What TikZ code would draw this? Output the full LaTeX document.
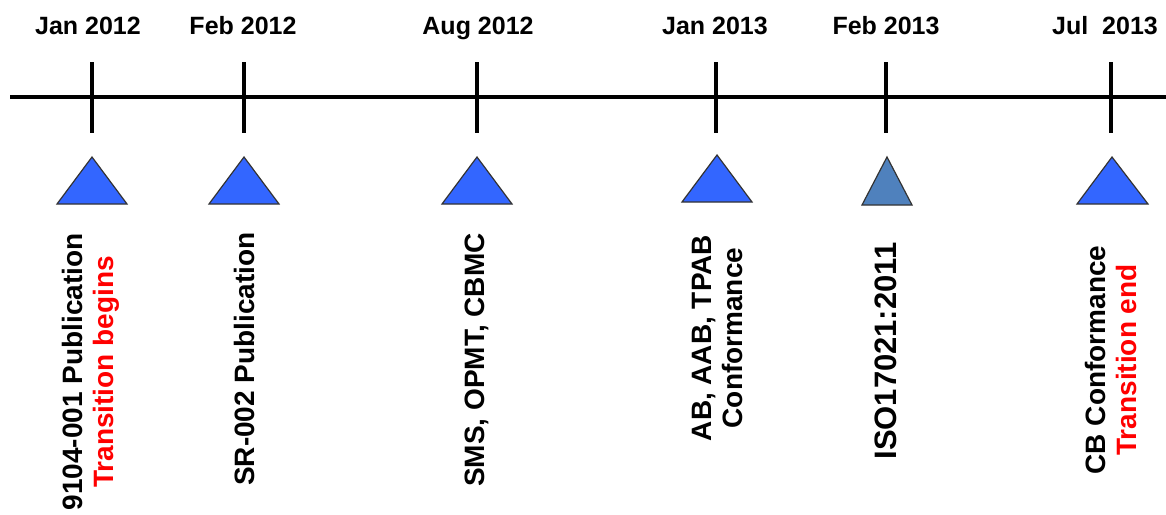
\documentclass[tikz,border=0pt]{standalone}
\usepackage{fontspec}
\setmainfont{Liberation Sans}
\definecolor{tribl}{RGB}{51,102,255}
\definecolor{trisb}{RGB}{79,129,189}
\definecolor{txtred}{RGB}{255,0,0}
\begin{document}
\begin{tikzpicture}[x=1pt,y=-1pt,
  axisline/.style={line width=3.6pt, black},
  ticklin/.style={line width=3.6pt, black},
  datelab/.style={font=\fontsize{25}{30}\selectfont\bfseries, inner sep=0pt, anchor=base},
  evlab/.style={rotate=90, align=center, font=\fontsize{28}{31}\selectfont\bfseries, inner sep=0pt},
  tri/.style={draw=black!80, line width=1.2pt, fill=tribl, line join=miter},
  trisec/.style={tri, fill=trisb}
]
\useasboundingbox (0,0) rectangle (1166,514);

% axis
\coordinate (axL) at (10,97);
\coordinate (axR) at (1166,97);
\draw[axisline] (axL) -- (axR);

% ticks
\foreach \n/\x in {1/92,2/244,3/477,4/716,5/886,6/1111}{
  \coordinate (tt\n) at (\x,62);
  \coordinate (tb\n) at (\x,133);
  \draw[ticklin] (tt\n) -- (tb\n);
}

% date labels
\node[datelab] (d1) at (88,34) {Jan 2012};
\node[datelab] (d2) at (243,34) {Feb 2012};
\node[datelab] (d3) at (478,34) {Aug 2012};
\node[datelab] (d4) at (715,34) {Jan 2013};
\node[datelab] (d5) at (886,34) {Feb 2013};
\node[datelab] (d6) at (1105,34) {Jul\ \ 2013};

% triangles
\draw[tri] (92,157) -- (127,204) -- (57,204) -- cycle;
\draw[tri] (244,157) -- (279,204) -- (209,204) -- cycle;
\draw[tri] (477,157) -- (512,204) -- (442,204) -- cycle;
\draw[tri] (717,155) -- (752,202) -- (682,202) -- cycle;
\draw[trisec] (887,157) -- (912,205) -- (862,205) -- cycle;
\draw[tri] (1112,157) -- (1148,204) -- (1077,204) -- cycle;

% event labels
\node[evlab] (e1) at (91,372) {9104-001 Publication\\\textcolor{txtred}{Transition begins}};
\node[evlab] (e2) at (244,359) {SR-002 Publication};
\node[evlab] (e3) at (477,360) {SMS, OPMT, CBMC};
\node[evlab] (e4) at (717,338) {AB, AAB, TPAB\\Conformance};
\node[evlab, font=\fontsize{31}{34}\selectfont\bfseries] (e5) at (886,351) {ISO17021:2011};
\node[evlab] (e6) at (1111,360) {CB Conformance\\\textcolor{txtred}{Transition end}};
\end{tikzpicture}
\end{document}
